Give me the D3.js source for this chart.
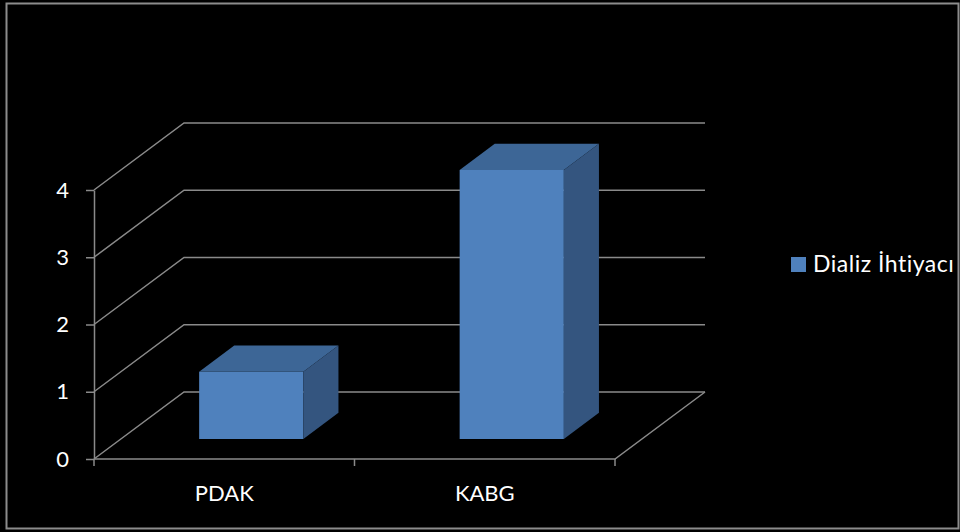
<!DOCTYPE html>
<html>
<head>
<meta charset="utf-8">
<script src="https://cdn.jsdelivr.net/npm/d3@7"></script>
<style>
    body { margin: 0; background: #000; }
    svg { display: block; }
    text { font-family: Lato, "Open Sans", sans-serif; fill: #fff; }
</style>
</head>
<body>
<div id="graph_container"></div>
<script>
var categories = ["PDAK", "KABG"];
var values     = [1, 4];
var yTicks     = [0, 1, 2, 3, 4];
var seriesName = "Dializ İhtiyacı";

function createGraph() {
    var frame_width  = 960,
        frame_height = 532,
        left   = 94,
        right  = 615,
        bottom = 459,
        top    = 190,
        depthX = 90,   // offset of the back wall
        depthY = -67,
        barFrom = 0.3, // depth where bars start / end
        barTo   = 0.69,
        gridColor = "#8a8a8a";

    var svg = d3.select("#graph_container").append("svg")
        .attr("width", frame_width)
        .attr("height", frame_height);

    svg.append("rect")
        .attr("width", frame_width).attr("height", frame_height)
        .attr("fill", "#000");

    // outer frame
    svg.append("rect")
        .attr("x", 6.5).attr("y", 3.5)
        .attr("width", 952).attr("height", 525)
        .attr("fill", "none")
        .attr("stroke", "#8c8c8c")
        .attr("stroke-width", 2);

    var x = d3.scaleBand()
        .domain(categories)
        .range([left, right]);
    var y = d3.scaleLinear()
        .domain([0, 4])
        .range([bottom, top]);

    // project a front point back by depth d (0..1)
    function px(xv, d) { return xv + depthX * d; }
    function py(yv, d) { return yv + depthY * d; }

    var grid = svg.append("g")
        .attr("fill", "none")
        .attr("stroke", gridColor)
        .attr("stroke-width", 1.5);

    // back wall gridlines with the slant on the side wall
    grid.selectAll("path.gl")
        .data(yTicks)
        .enter().append("path")
        .attr("class", "gl")
        .attr("d", function(d) {
            return "M" + left + "," + y(d) +
                "L" + px(left, 1) + "," + py(y(d), 1) +
                "L" + px(right, 1) + "," + py(y(d), 1);
        });

    // floor front edge and right edge
    grid.append("path")
        .attr("d", "M" + left + "," + y(0) + "L" + right + "," + y(0) +
            "L" + px(right, 1) + "," + py(y(0), 1));

    // y axis
    var yAxis = svg.append("g")
        .attr("transform", "translate(" + left + ",0)")
        .call(d3.axisLeft(y).tickValues(yTicks).tickSize(8).tickSizeOuter(0).tickPadding(17).tickFormat(d3.format("d")));
    yAxis.select(".domain").attr("stroke", gridColor).attr("stroke-width", 1.5);
    yAxis.selectAll(".tick line").attr("stroke", gridColor).attr("stroke-width", 1.5);
    yAxis.selectAll(".tick text")
        .attr("fill", "#fff")
        .style("font-size", "22px")
        .style("font-family", "Lato, sans-serif");

    // x axis labels
    var xAxis = svg.append("g")
        .attr("transform", "translate(0," + bottom + ")")
        .call(d3.axisBottom(x).tickSize(0).tickPadding(26));
    xAxis.select(".domain").remove();
    xAxis.selectAll(".tick text")
        .attr("fill", "#fff")
        .style("font-size", "22px")
        .style("font-family", "Lato, sans-serif");

    // tick marks on category boundaries
    var edges = categories.map(function(c) { return x(c); }).concat([right]);
    svg.append("g").selectAll("line")
        .data(edges)
        .enter().append("line")
        .attr("x1", function(d) { return d; })
        .attr("x2", function(d) { return d; })
        .attr("y1", bottom)
        .attr("y2", bottom + 7)
        .attr("stroke", gridColor)
        .attr("stroke-width", 1.5);

    // 3D bars
    var bw = x.bandwidth() * 0.4;
    var bars = svg.append("g").selectAll("g")
        .data(categories.map(function(c, i) { return {cat: c, value: values[i]}; }))
        .enter().append("g");

    function barGeom(d) {
        var x0 = px(x(d.cat) + (x.bandwidth() - bw) / 2, barFrom),
            x1 = x0 + bw,
            yb = py(y(0), barFrom),
            yt = py(y(d.value), barFrom),
            dx = depthX * (barTo - barFrom),
            dy = depthY * (barTo - barFrom);
        return {x0: x0, x1: x1, yb: yb, yt: yt, dx: dx, dy: dy};
    }

    // front face
    bars.append("path")
        .attr("fill", "#4f81bd")
        .attr("d", function(d) {
            var g = barGeom(d);
            return "M" + g.x0 + "," + g.yt + "L" + g.x1 + "," + g.yt +
                "L" + g.x1 + "," + g.yb + "L" + g.x0 + "," + g.yb + "Z";
        });
    // top face
    bars.append("path")
        .attr("fill", "#3d6696")
        .attr("d", function(d) {
            var g = barGeom(d);
            return "M" + g.x0 + "," + g.yt + "L" + g.x1 + "," + g.yt +
                "L" + (g.x1 + g.dx) + "," + (g.yt + g.dy) +
                "L" + (g.x0 + g.dx) + "," + (g.yt + g.dy) + "Z";
        });
    // side face
    bars.append("path")
        .attr("fill", "#34557f")
        .attr("d", function(d) {
            var g = barGeom(d);
            return "M" + g.x1 + "," + g.yt +
                "L" + (g.x1 + g.dx) + "," + (g.yt + g.dy) +
                "L" + (g.x1 + g.dx) + "," + (g.yb + g.dy) +
                "L" + g.x1 + "," + g.yb + "Z";
        });

    // legend
    var legend = svg.append("g")
        .attr("transform", "translate(791,257)");
    legend.append("rect")
        .attr("width", 15).attr("height", 15)
        .attr("fill", "#4f81bd");
    legend.append("text")
        .attr("x", 22)
        .attr("y", 15)
        .style("font-size", "23px")
        .style("letter-spacing", "0.5px")
        .text(seriesName);
}

createGraph();
</script>
</body>
</html>
